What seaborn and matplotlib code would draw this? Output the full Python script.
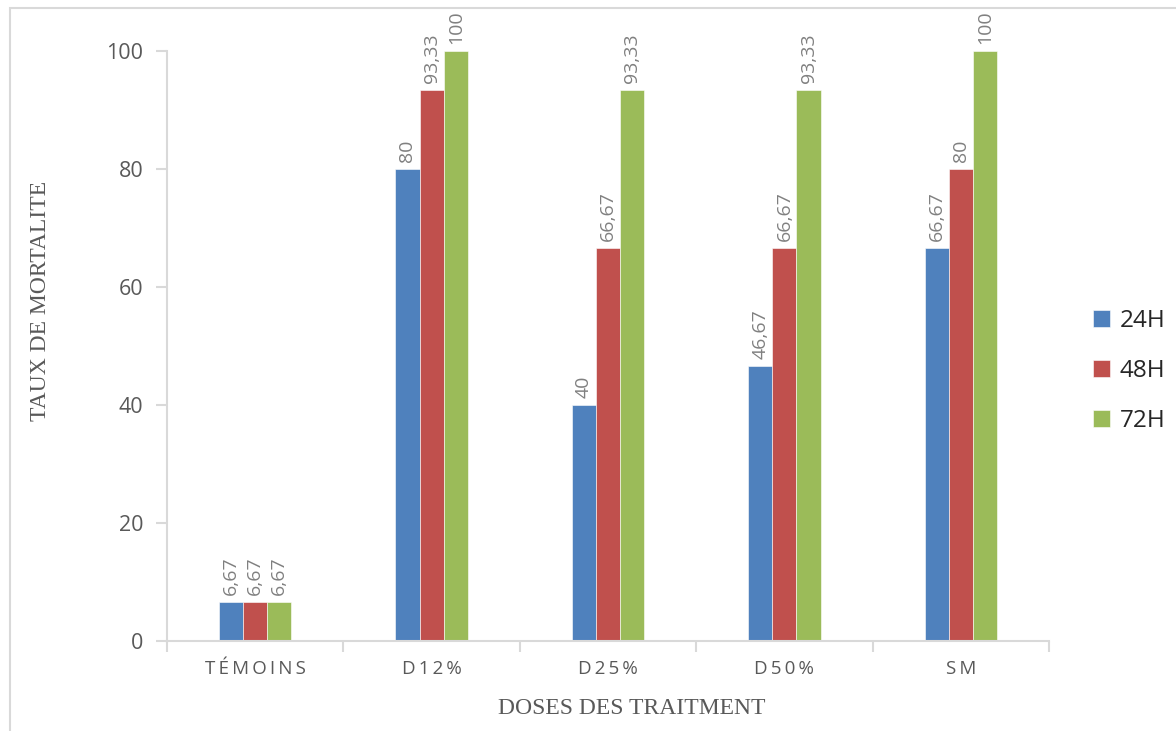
import matplotlib
matplotlib.use("Agg")
import matplotlib.pyplot as plt
import matplotlib.patches as mpatches
import seaborn as sns
import pandas as pd

# data
doses = ["TÉMOINS", "D12%", "D25%", "D50%", "SM"]
temps = ["24H", "48H", "72H"]
taux_24h = [6.67, 80, 40, 46.67, 66.67]
taux_48h = [6.67, 93.33, 66.67, 66.67, 80]
taux_72h = [6.67, 100, 93.33, 93.33, 100]
colors = ["#4F81BD", "#C0504D", "#9BBB59"]

rows = []
for t, vals in zip(temps, [taux_24h, taux_48h, taux_72h]):
    for d, v in zip(doses, vals):
        rows.append({"dose": d, "temps": t, "taux": v})
df = pd.DataFrame(rows)

sns.set_theme(style="white")
plt.rcParams["font.family"] = ["Open Sans", "DejaVu Sans"]

grid_col = "#d9d9d9"
txt_col = "#595959"

fig = plt.figure(figsize=(11.76, 7.31), dpi=100)
ax = fig.add_axes([167 / 1176, 1 - 641 / 731, 882 / 1176, 590 / 731])

sns.barplot(data=df, x="dose", y="taux", hue="temps", order=doses, hue_order=temps,
            palette=colors, saturation=1, width=0.41, gap=0,
            edgecolor="white", linewidth=0.4, ax=ax)

def fmt(v):
    s = f"{v:.2f}".rstrip("0").rstrip(".")
    return s.replace(".", ",")

# rotated value labels above the bars
for cont in ax.containers:
    ax.bar_label(cont, labels=[fmt(b.get_height()) for b in cont], rotation=90,
                 padding=5, fontsize=14, color="#808080")

ax.set_ylim(0, 100)
ax.set_xlim(-0.5, len(doses) - 0.5)
ax.set_yticks([0, 20, 40, 60, 80, 100])
ax.tick_params(axis="y", length=8, color=grid_col, width=1.5, labelsize=15.5,
               labelcolor=txt_col, pad=9, left=True)
ax.set_xticks(range(len(doses)))
ax.set_xticklabels(["\u2009".join(d) for d in doses], fontsize=13.5, color=txt_col)
ax.tick_params(axis="x", length=0, pad=14)
ax.set_xticks([i - 0.5 for i in range(len(doses) + 1)], minor=True)
ax.tick_params(axis="x", which="minor", length=8, color=grid_col, width=1.5, bottom=True)

for s in ["top", "right"]:
    ax.spines[s].set_visible(False)
for s in ["left", "bottom"]:
    ax.spines[s].set_color(grid_col)
    ax.spines[s].set_linewidth(1.5)

ax.set_xlabel("DOSES DES TRAITMENT", family="Liberation Serif", fontsize=17, color=txt_col)
ax.xaxis.set_label_coords((632 - 167) / 882, (641 - 708) / 590)
ax.xaxis.label.set_va("center")
ax.set_ylabel("TAUX DE MORTALITE", family="Liberation Serif", fontsize=17, color=txt_col)
ax.yaxis.set_label_coords((41 - 167) / 882, (641 - 301) / 590)
ax.yaxis.label.set_va("center")

leg = ax.legend(loc="center left", bbox_to_anchor=(1071 / 1176, 1 - 371 / 731),
                bbox_transform=fig.transFigure, frameon=False, fontsize=17.5,
                handlelength=0.7, handleheight=0.7, labelspacing=1.05, handletextpad=0.4)

# outer chart border
fig.patches.append(mpatches.Rectangle((10 / 1176, -0.05), 1.2, 1 - 8 / 731 + 0.05,
                                      transform=fig.transFigure, fill=False,
                                      edgecolor=grid_col, linewidth=1.5))

fig.savefig("out.png", dpi=100)
